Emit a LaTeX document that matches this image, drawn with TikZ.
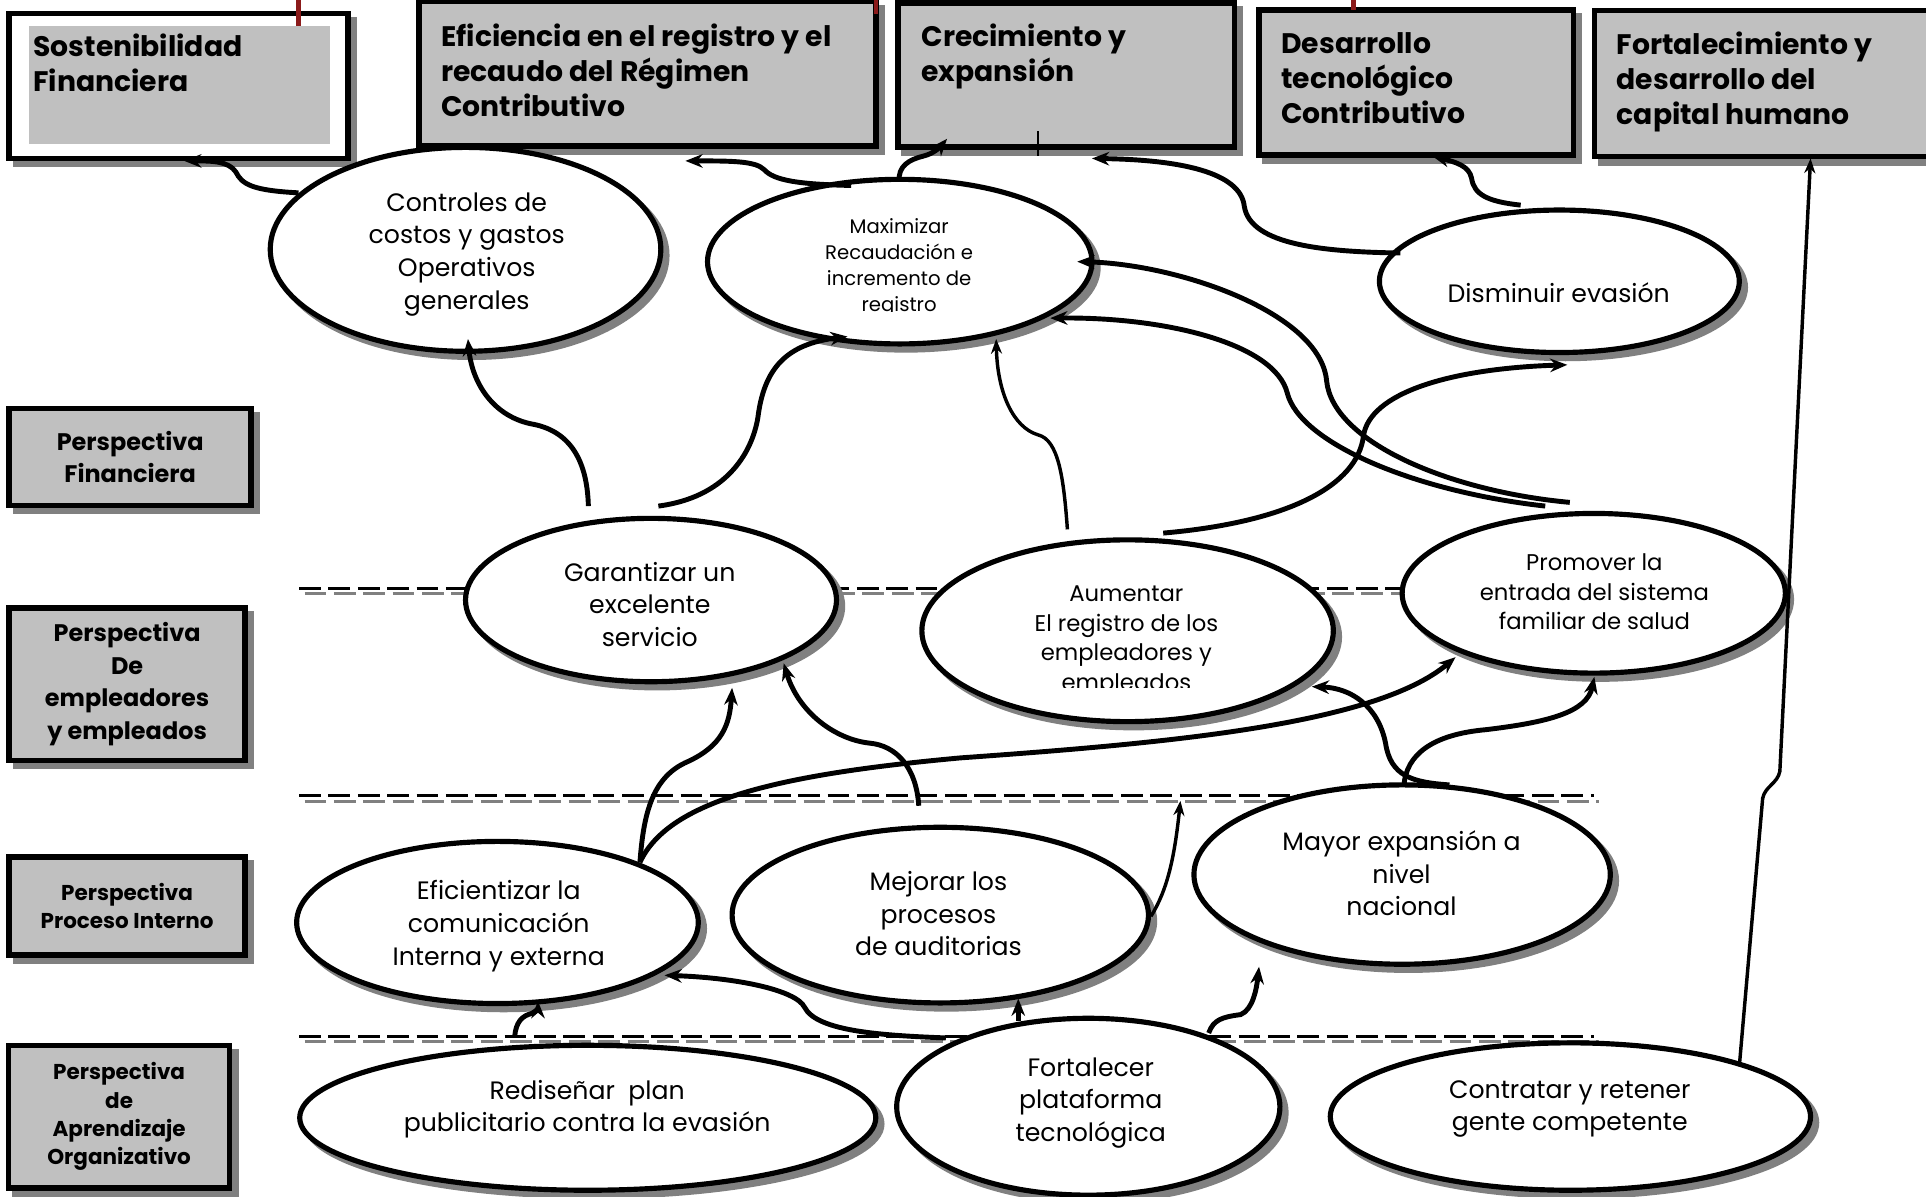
\documentclass[tikz,border=0pt]{standalone}
\usepackage{fontspec}
\setmainfont{Poppins}
\usetikzlibrary{shapes.geometric,arrows.meta,shadows}
\definecolor{boxgray}{RGB}{192,192,192}
\definecolor{shgray}{RGB}{128,128,128}
\definecolor{maroonred}{RGB}{139,26,26}
\tikzset{
  shd/.style={drop shadow={shadow xshift=5pt,shadow yshift=-5pt,fill=shgray,draw=shgray,opacity=1}},
  ell/.style={ellipse,draw=black,line width=4.2pt,fill=white,inner sep=0pt,shd},
  hbox/.style={rectangle,draw=black,line width=4.5pt,fill=boxgray,inner sep=0pt,shd},
  pbox/.style={rectangle,draw=black,line width=4.5pt,fill=boxgray,inner sep=0pt,shd,align=center,font=\bfseries\fontsize{19.5}{26.5}\selectfont},
  pboxs/.style={pbox,font=\bfseries\fontsize{17.5}{23}\selectfont},
  htext/.style={anchor=north west,inner sep=0pt,align=left,font=\bfseries\fontsize{23}{28.5}\selectfont},
  etext/.style={inner sep=0pt,align=center,font=\fontsize{20.5}{26.5}\selectfont},
  etextm/.style={etext,font=\fontsize{18.5}{24}\selectfont},
  etexts/.style={etext,font=\fontsize{16}{21}\selectfont},
  conn/.style={line width=4pt,-{Stealth[length=14pt,width=11pt]}},
  thinconn/.style={line width=2.8pt,-{Stealth[length=12pt,width=9pt]}},
  dashk/.style={line width=2.4pt,dash pattern=on 17.7pt off 6.2pt},
}
\begin{document}
\begin{tikzpicture}[x=1pt,y=-1pt]
\useasboundingbox (0,0) rectangle (1568,974);

% dashed separators (black line with grey offset copy)
\draw[dashk,shgray] (248,483.3) -- (1200,483.3);
\draw[dashk] (243.5,479) -- (1200,479);
\draw[dashk,shgray] (248,652.3) -- (1302,652.3);
\draw[dashk] (243.5,648) -- (1298,648);
\draw[dashk,shgray] (248,847.8) -- (1302,847.8);
\draw[dashk] (243.5,843.5) -- (1298,843.5);

% header boxes
\node[hbox,fill=white,minimum width=276pt,minimum height=118pt] (B1) at (145.5,70) {};
\node[fill=boxgray,inner sep=0pt,minimum width=245pt,minimum height=96pt] (B1in) at (146,69.5) {};
\node[htext] (B1t) at (27,27.5) {Sostenibilidad\\Financiera};
\node[hbox,minimum width=372pt,minimum height=118pt] (B2) at (527,60) {};
\node[htext] (B2t) at (359,19) {Eficiencia en el registro y el\\recaudo del Régimen\\Contributivo};
\node[hbox,minimum width=274pt,minimum height=117pt] (B3) at (868,61) {};
\node[htext] (B3t) at (750,19) {Crecimiento y\\expansión};
\node[hbox,minimum width=256pt,minimum height=118pt] (B4) at (1153,67) {};
\node[htext] (B4t) at (1043,26) {Desarrollo\\tecnológico\\Contributivo};
\node[hbox,minimum width=322pt,minimum height=119pt] (B5) at (1459,68) {};
\node[htext] (B5t) at (1316,26) {Fortalecimiento y\\desarrollo del\\capital humano};

\draw[maroonred,line width=3.5pt] (243,0) -- (243,21);
\draw[maroonred,line width=3.5pt] (713,0) -- (713,11);
\draw[maroonred,line width=3.5pt] (1102,0) -- (1102,8);
\draw[line width=1pt] (845,107) -- (845,127);

% perspective boxes
\node[pbox,minimum width=197pt,minimum height=79pt] (P1) at (106,372) {Perspectiva\\Financiera};
\node[pbox,minimum width=192pt,minimum height=124pt] (P2) at (103.5,557) {Perspectiva\\De\\empleadores\\y empleados};
\node[pboxs,minimum width=192pt,minimum height=80pt] (P3) at (103.5,737.5) {Perspectiva\\Proceso Interno};
\node[pboxs,minimum width=180pt,minimum height=116pt] (P4) at (97,909) {Perspectiva\\de\\Aprendizaje\\Organizativo};

% ellipses
\node[ell,minimum width=318pt,minimum height=166pt] (E1) at (379,203) {};
\node[ell,minimum width=313pt,minimum height=134pt] (E2) at (732.5,213) {};
\node[ell,minimum width=293pt,minimum height=116pt] (E3) at (1269.5,229) {};
\node[ell,minimum width=302pt,minimum height=133pt] (E4) at (530,488.5) {};
\node[ell,minimum width=335pt,minimum height=148pt] (E5) at (918,513.5) {};
\node[ell,minimum width=312pt,minimum height=130pt] (E6) at (1297.5,483) {};
\node[ell,minimum width=327pt,minimum height=132pt] (E7) at (405,751) {};
\node[ell,minimum width=339pt,minimum height=143pt] (E8) at (765.5,745) {};
\node[ell,minimum width=339pt,minimum height=146pt] (E9) at (1141.5,712) {};
\node[ell,minimum width=469pt,minimum height=118pt] (E10) at (478.5,910) {};
\node[ell,minimum width=312pt,minimum height=144pt] (E11) at (886,901) {};
\node[ell,minimum width=391pt,minimum height=120pt] (E12) at (1278.5,909) {};

% ellipse texts
\node[etext] (E1t) at (380,207) {Controles de\\costos y gastos\\Operativos\\generales};
\begin{scope}
\clip (600,160) rectangle (870,254);
\node[etexts] (E2t) at (732,218) {Maximizar\\Recaudación e\\incremento de\\registro};
\end{scope}
\node[etext] (E3t) at (1269,238) {Disminuir evasión};
\node[etext] (E4t) at (529,492) {Garantizar un\\excelente\\servicio};
\begin{scope}
\clip (780,450) rectangle (1060,560);
\node[etextm] (E5t) at (917,522) {Aumentar\\El registro de los\\empleadores y\\empleados};
\end{scope}
\node[etextm] (E6t) at (1298,482) {Promover la\\entrada del sistema\\familiar de salud};
\node[etext] (E7t) at (406,754) {Eficientizar la\\comunicación\\Interna y externa};
\node[etext] (E8t) at (764,744) {Mejorar los\\procesos\\de auditorias};
\node[etext] (E9t) at (1141,711) {Mayor expansión a\\nivel\\nacional};
\node[etext] (E10t) at (478,903) {Rediseñar\ \ plan\\publicitario contra la evasión};
\node[etext] (E11t) at (888,898) {Fortalecer\\plataforma\\tecnológica};
\node[etext] (E12t) at (1278,903) {Contratar y retener\\gente competente};

% connector end points
\coordinate (c1s) at (243,157);  \coordinate (c1e) at (150,131);
\coordinate (c2s) at (693,151);  \coordinate (c2e) at (558,131);
\coordinate (c3s) at (732,148);  \coordinate (c3e) at (771,113);
\coordinate (c4s) at (1140,206); \coordinate (c4e) at (889,129);
\coordinate (c5s) at (1238,167); \coordinate (c5e) at (1166,127);
\coordinate (c6s) at (1416,868); \coordinate (c6e) at (1474,129);
\coordinate (c7s) at (479,412);  \coordinate (c7e) at (381,276);
\coordinate (c8s) at (536,412);  \coordinate (c8e) at (690,274);
\coordinate (c9s) at (869,431);  \coordinate (c9e) at (811,276);
\coordinate (c10s) at (947,434); \coordinate (c10e) at (1276,297);
\coordinate (c11s) at (1278,409); \coordinate (c11e) at (877,213);
\coordinate (c12s) at (1258,412); \coordinate (c12e) at (855,259);
\coordinate (c13s) at (521,702); \coordinate (c13e) at (596,560);
\coordinate (c14s) at (748,656); \coordinate (c14e) at (638,540);
\coordinate (c15e) at (1185,535);
\coordinate (c16s) at (1180,639); \coordinate (c16e) at (1068,559);
\coordinate (c17s) at (1143,639); \coordinate (c17e) at (1298,551);
\coordinate (c18s) at (937,746); \coordinate (c18e) at (961,652);
\coordinate (c19s) at (984,841); \coordinate (c19e) at (1025,787);
\coordinate (c20s) at (829,831); \coordinate (c20e) at (829,813);
\coordinate (c21s) at (770,845); \coordinate (c21e) at (541,794);
\coordinate (c22s) at (419,844); \coordinate (c22e) at (438,815);

% connectors
\draw[conn] (c1s) .. controls (205,155) and (197,150) .. (192,140) .. controls (186,131) and (172,131) .. (c1e);
\draw[conn] (c2s) .. controls (650,150) and (630,147) .. (622,138) .. controls (615,131) and (595,131) .. (c2e);
\draw[conn] (c3s) .. controls (731,135) and (740,130) .. (752,127) .. controls (760,125) and (765,120) .. (c3e);
\draw[conn] (c4s) .. controls (1080,205) and (1018,200) .. (1013,168) .. controls (1010,140) and (960,130) .. (c4e);
\draw[conn] (c5s) .. controls (1210,164) and (1200,158) .. (1198,145) .. controls (1196,135) and (1185,132) .. (c5e);
\draw[thinconn] (c6s) -- (1435,650) .. controls (1437,640) and (1447,638) .. (1449,628) -- (c6e);
\draw[conn] (c7s) .. controls (478,372) and (462,350) .. (432,345) .. controls (400,338) and (384,310) .. (c7e);
\draw[conn] (c8s) .. controls (590,405) and (612,370) .. (617,340) .. controls (622,300) and (640,280) .. (c8e);
\draw[thinconn] (c9s) .. controls (866,390) and (862,358) .. (845,354) .. controls (825,348) and (812,320) .. (c9e);
\draw[conn] (c10s) .. controls (1050,425) and (1105,395) .. (1110,355) .. controls (1115,320) and (1180,300) .. (c10e);
\draw[conn] (c11s) .. controls (1180,400) and (1085,360) .. (1080,310) .. controls (1075,255) and (960,215) .. (c11e);
\draw[conn] (c12s) .. controls (1150,400) and (1058,360) .. (1048,320) .. controls (1038,280) and (950,258) .. (c12e);
\draw[conn] (c13s) .. controls (524,660) and (532,632) .. (560,620) .. controls (588,607) and (594,590) .. (c13e);
\draw[conn] (c14s) .. controls (746,625) and (730,607) .. (708,605) .. controls (680,602) and (650,580) .. (c14e);
\draw[conn] (c13s) .. controls (545,650) and (640,630) .. (782,617) .. controls (950,605) and (1120,590) .. (c15e);
\draw[conn] (c16s) .. controls (1150,637) and (1132,632) .. (1128,605) .. controls (1122,575) and (1100,560) .. (c16e);
\draw[conn] (c17s) .. controls (1145,615) and (1165,598) .. (1210,594) .. controls (1260,588) and (1292,580) .. (c17e);
\draw[thinconn] (c18s) .. controls (950,725) and (956,700) .. (c18e);
\draw[conn] (c19s) .. controls (988,830) and (995,828) .. (1010,826) .. controls (1020,822) and (1023,805) .. (c19e);
\draw[conn] (c20s) -- (c20e);
\draw[conn] (c21s) .. controls (720,843) and (665,840) .. (655,820) .. controls (648,806) and (600,796) .. (c21e);
\draw[conn] (c22s) .. controls (420,832) and (425,827) .. (433,825) .. controls (437,823) and (438,820) .. (c22e);
\end{tikzpicture}
\end{document}
